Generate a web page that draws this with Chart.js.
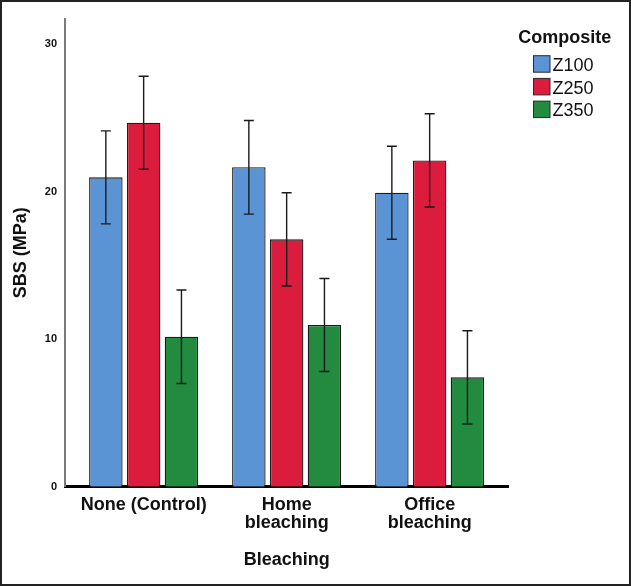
<!DOCTYPE html>
<html>
<head>
<meta charset="utf-8">
<script src="https://cdn.jsdelivr.net/npm/chart.js@4/dist/chart.umd.min.js"></script>
<style>
  html, body { margin: 0; padding: 0; background: #ffffff; }
  #wrap { width: 631px; height: 586px; position: relative; }
</style>
</head>
<body>
<div id="wrap"><canvas id="c" width="631" height="586"></canvas></div>
<script>
// ---- data ----
const categories = [["None (Control)"], ["Home", "bleaching"], ["Office", "bleaching"]];
const seriesNames = ["Z100", "Z250", "Z350"];
const z100 = [20.96, 21.64, 19.92];
const z250 = [24.66, 16.76, 22.11];
const z350 = [10.16, 10.96, 7.41];
const errZ100 = [3.15, 3.17, 3.15];
const errZ250 = [3.15, 3.16, 3.16];
const errZ350 = [3.17, 3.15, 3.16];
const yTicks = [0, 10, 20, 30];
const xTitle = "Bleaching";
const yTitle = "SBS (MPa)";
const legendTitle = "Composite";

const colors = ["#5b94d4", "#db1c3c", "#228b3f"];
const FONT = "'Liberation Sans', Arial, sans-serif";

const seriesValues = [z100, z250, z350];
const seriesErrors = [errZ100, errZ250, errZ350];

const datasets = seriesNames.map((name, s) => ({
  label: name,
  data: seriesValues[s].map((v, i) => ({ x: i, y: v })),
  errors: seriesErrors[s],
  backgroundColor: colors[s],
  borderColor: "#1c1c1c",
  borderWidth: 1.3,
  borderSkipped: "start",
  categoryPercentage: 0.793,
  barPercentage: 0.886
}));

const errorBars = {
  id: "errorBars",
  afterDatasetsDraw(chart) {
    const ctx = chart.ctx;
    const yScale = chart.scales.y;
    ctx.save();
    ctx.strokeStyle = "#1a1a1a";
    ctx.lineWidth = 1.4;
    chart.data.datasets.forEach((ds, di) => {
      const meta = chart.getDatasetMeta(di);
      meta.data.forEach((bar, i) => {
        const v = ds.data[i].y, e = ds.errors[i];
        const yTop = yScale.getPixelForValue(v + e);
        const yBot = yScale.getPixelForValue(v - e);
        const x = bar.x;
        ctx.beginPath();
        ctx.moveTo(x, yTop); ctx.lineTo(x, yBot);
        ctx.moveTo(x - 5, yTop); ctx.lineTo(x + 5, yTop);
        ctx.moveTo(x - 5, yBot); ctx.lineTo(x + 5, yBot);
        ctx.stroke();
      });
    });
    ctx.restore();
  }
};

const customLegend = {
  id: "customLegend",
  afterDraw(chart) {
    const ctx = chart.ctx;
    ctx.save();
    ctx.fillStyle = "#111";
    ctx.font = "bold 18px " + FONT;
    ctx.textAlign = "center";
    ctx.textBaseline = "alphabetic";
    ctx.fillText(legendTitle, 564.7, 42.7);
    ctx.font = "18px " + FONT;
    ctx.textAlign = "left";
    chart.data.datasets.forEach((ds, i) => {
      const by = 55.7 + i * 22.7;
      ctx.fillStyle = ds.backgroundColor;
      ctx.fillRect(533.5, by, 16.5, 16.5);
      ctx.strokeStyle = "#2b2b2b";
      ctx.lineWidth = 1;
      ctx.strokeRect(533.5, by, 16.5, 16.5);
      ctx.fillStyle = "#111";
      ctx.fillText(ds.label, 552.5, 71 + i * 22.7);
    });
    // outer frame
    ctx.strokeStyle = "#222";
    ctx.lineWidth = 2;
    ctx.strokeRect(1, 1, 629, 584);
    ctx.restore();
  }
};

new Chart(document.getElementById("c"), {
  type: "bar",
  data: { datasets },
  options: {
    responsive: false,
    animation: false,
    devicePixelRatio: 1,
    layout: { padding: { top: 19, right: 122.7, bottom: 0, left: 0 } },
    plugins: {
      legend: { display: false },
      tooltip: { enabled: false }
    },
    scales: {
      x: {
        type: "linear",
        offset: false,
        min: -0.55,
        max: 2.55,
        z: 1,
        afterFit(scale) { scale.height = 99.3; },
        afterBuildTicks(scale) { scale.ticks = categories.map((c, i) => ({ value: i })); },
        grid: { display: false, drawTicks: false },
        border: { display: true, color: "#000", width: 3 },
        ticks: {
          autoSkip: false,
          maxRotation: 0,
          padding: 10,
          color: "#111",
          font: { family: FONT, size: 18, weight: "bold", lineHeight: 0.98 },
          callback: (value) => categories[Math.round(value)]
        },
        title: {
          display: true,
          text: xTitle,
          color: "#111",
          font: { family: FONT, size: 18, weight: "bold", lineHeight: 1.2 },
          padding: { top: 0, bottom: 15.5 }
        }
      },
      y: {
        min: 0,
        max: 31.69,
        afterFit(scale) { scale.width = 65; },
        afterBuildTicks(scale) { scale.ticks = yTicks.map(v => ({ value: v })); },
        grid: { display: false, drawTicks: false },
        border: { display: true, color: "#7a7a7a", width: 2 },
        ticks: {
          padding: 8,
          color: "#111",
          font: { family: FONT, size: 11, weight: "bold" }
        },
        title: {
          display: true,
          text: yTitle,
          color: "#111",
          font: { family: FONT, size: 18, weight: "bold", lineHeight: 1.2 },
          padding: { top: 10.2, bottom: 0 }
        }
      }
    }
  },
  plugins: [errorBars, customLegend]
});
</script>
</body>
</html>
